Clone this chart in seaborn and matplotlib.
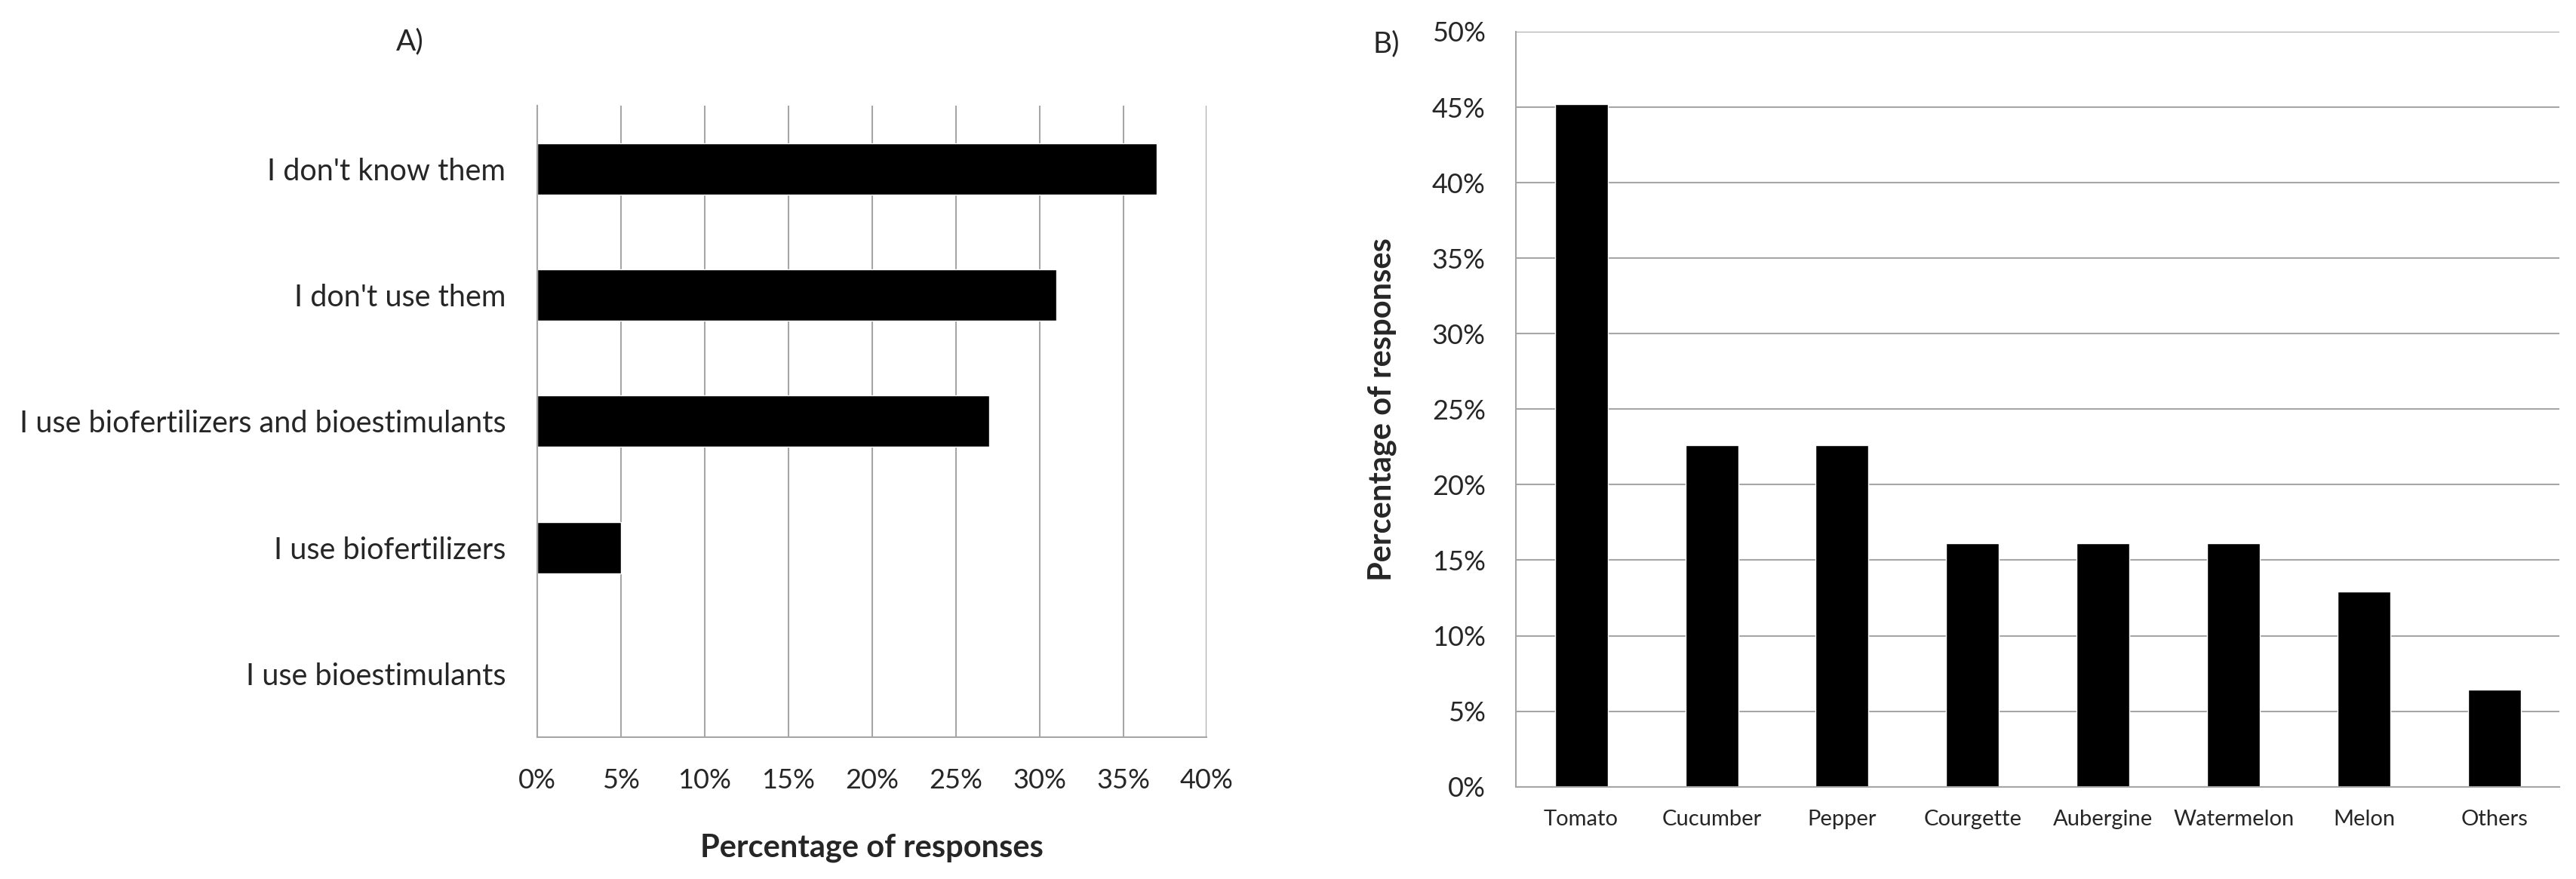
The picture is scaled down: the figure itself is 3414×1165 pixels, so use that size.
import numpy as np
import pandas as pd
import seaborn as sns
import matplotlib.pyplot as plt
from matplotlib.ticker import FuncFormatter

# Panel A - knowledge / use of biofertilizers and bioestimulants
use_labels = ["I don't know them", "I don't use them",
              "I use biofertilizers and bioestimulants",
              "I use biofertilizers", "I use bioestimulants"]
use_pct = [37, 31, 27, 5, 0]

# Panel B - crops
crops = ["Tomato", "Cucumber", "Pepper", "Courgette", "Aubergine",
         "Watermelon", "Melon", "Others"]
crop_pct = [45.2, 22.6, 22.6, 16.1, 16.1, 16.1, 12.9, 6.45]

sns.set_style("white")
plt.rcParams['font.family'] = ['Lato', 'DejaVu Sans']

GRAY = "#A6A6A6"
pct_fmt = FuncFormatter(lambda v, p: f"{v:.0f}%")

df_a = pd.DataFrame({"label": use_labels, "pct": use_pct})
df_b = pd.DataFrame({"crop": crops, "pct": crop_pct})

fig = plt.figure(figsize=(34.14, 11.65), dpi=100)
ax1 = fig.add_axes([0.2085, 0.1616, 0.26, 0.7182])
ax2 = fig.add_axes([0.5885, 0.105, 0.4052, 0.859])

# --- A) horizontal bars ---
sns.barplot(data=df_a, x="pct", y="label", orient="h", color="black",
            width=0.405, saturation=1, ax=ax1)
ax1.set_xlim(0, 40)
ax1.set_xticks(np.arange(0, 41, 5))
ax1.xaxis.set_major_formatter(pct_fmt)
ax1.set_yticks(np.arange(-0.5, 5), minor=True)
ax1.grid(axis="x", color=GRAY, linewidth=1.5)
ax1.set_axisbelow(True)
for s in ["top", "right"]:
    ax1.spines[s].set_visible(False)
for s in ["left", "bottom"]:
    ax1.spines[s].set_color(GRAY)
    ax1.spines[s].set_linewidth(1.5)
ax1.tick_params(axis="y", which="major", length=0, pad=30, labelsize=28.5)
ax1.tick_params(axis="y", which="minor", length=10, width=1.5, color=GRAY)
ax1.tick_params(axis="x", which="major", length=10, width=1.5, color=GRAY,
                pad=20, labelsize=26)
ax1.set_ylabel("")
ax1.set_xlabel("Percentage of responses", fontsize=30, fontweight="bold",
               labelpad=38)

# --- B) vertical bars ---
sns.barplot(data=df_b, x="crop", y="pct", color="black", width=0.405,
            saturation=1, ax=ax2)
ax2.set_ylim(0, 50)
ax2.set_xlim(-0.5, 7.5)
ax2.set_yticks(np.arange(0, 51, 5))
ax2.yaxis.set_major_formatter(pct_fmt)
ax2.set_xticks(np.arange(-0.5, 8), minor=True)
ax2.grid(axis="y", color=GRAY, linewidth=1.5)
ax2.set_axisbelow(True)
for s in ["top", "right"]:
    ax2.spines[s].set_visible(False)
for s in ["left", "bottom"]:
    ax2.spines[s].set_color(GRAY)
    ax2.spines[s].set_linewidth(1.5)
ax2.tick_params(axis="x", which="major", length=0, pad=22, labelsize=21)
ax2.tick_params(axis="x", which="minor", length=8, width=1.5, color=GRAY)
ax2.tick_params(axis="y", which="major", length=9, width=1.5, color=GRAY,
                pad=20, labelsize=26)
ax2.set_xlabel("")
ax2.set_ylabel("Percentage of responses", fontsize=30, fontweight="bold",
               labelpad=34)

fig.text(543 / 3414, 1 - 55 / 1165, "A)", fontsize=28, ha="center", va="center")
fig.text(1837 / 3414, 1 - 58 / 1165, "B)", fontsize=28, ha="center", va="center")

fig.savefig("out.png", dpi=100)
